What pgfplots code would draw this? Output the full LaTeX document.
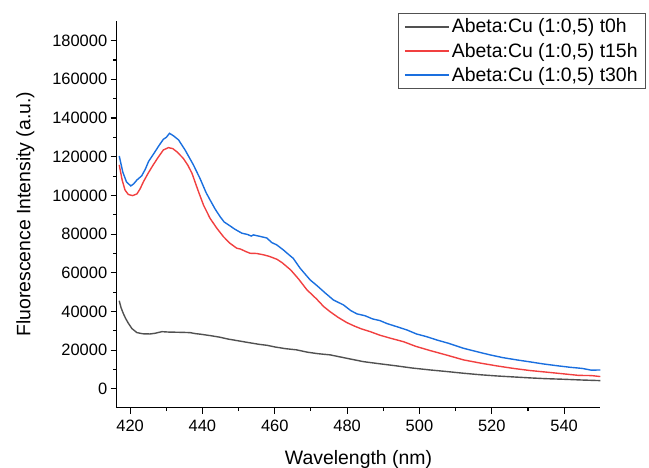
\documentclass[border=0pt]{standalone}
\usepackage{fontspec}
\setmainfont{Liberation Sans}
\usepackage{pgfplots}
\pgfplotsset{compat=1.18}
\definecolor{c1}{HTML}{515151}
\definecolor{c2}{HTML}{F14040}
\definecolor{c3}{HTML}{1A6FDF}
\begin{document}
\begin{tikzpicture}
\begin{axis}[
 scale only axis, width=483.6bp, height=387bp,
 xmin=416.3, xmax=550, ymin=-9700, ymax=190300,
 axis x line*=bottom, axis y line*=left,
 axis line style={line width=1.3bp, -},
 xtick={420,440,...,540}, minor x tick num=1,
 ytick={0,20000,...,180000}, minor y tick num=1,
 tick align=outside,
 major tick length=6bp, minor tick length=3.5bp,
 tick style={line width=1.1bp, black},
 scaled y ticks=false,
 yticklabel style={/pgf/number format/fixed, /pgf/number format/1000 sep={}},
 xticklabel style={yshift=-3bp},
 /pgf/number format/assume math mode=true,
 ticklabel style={font=\fontsize{16.5}{19}\selectfont},
 label style={font=\fontsize{19.5}{23}\selectfont},
 xlabel={Wavelength (nm)}, ylabel={Fluorescence Intensity (a.u.)},
 xlabel shift=11.5bp, ylabel shift=11bp,
 legend style={at={(1,1)}, anchor=north east, xshift=45.7bp, yshift=7.7bp,
   draw=c1, line width=0.8bp, fill=white, font=\fontsize{19.5}{23}\selectfont,
   inner xsep=6bp, inner ysep=3.5bp, row sep=4.5bp},
 legend cell align=left,
 legend image code/.code={\draw[#1] (0bp,0bp) -- (44bp,0bp);},
 legend image post style={line width=1.8bp},
 every axis plot/.append style={line width=1.4bp},
]
\coordinate (SW) at (rel axis cs:0,0);
\coordinate (NE) at (rel axis cs:1,1);
\addplot[color=c1] coordinates {
(417.0,45600)(417.5,42000)(418.1,39100)(418.8,36300)(419.5,34000)(420.5,31200)
(421.9,29100)(423.5,28500)(425.5,28400)(427.0,28800)(428.8,29600)(430.5,29400)
(432.9,29300)(435.0,29200)(436.6,29100)(438.0,28600)(439.4,28300)(442.0,27600)
(444.9,26700)(447.0,25800)(449.5,25000)(452.0,24200)(455.5,23100)(458.0,22500)
(460.0,21700)(463.0,20800)(466.0,20200)(469.0,19000)(472.0,18200)(475.3,17600)
(480.0,15800)(484.5,14100)(489.0,13000)(493.7,11900)(498.0,10800)(503.0,9800)
(507.5,9000)(512.2,8100)(517.0,7300)(521.4,6700)(526.0,6200)(530.6,5700)
(535.0,5300)(539.8,5000)(545.0,4600)(550.0,4300)
};
\addlegendentry{Abeta:Cu (1:0,5) t0h}
\addplot[color=c2] coordinates {
(417.0,115800)(417.8,108000)(418.6,102800)(419.5,100500)(420.7,99900)(421.9,100800)
(422.8,103500)(423.7,107100)(425.0,111500)(426.4,115800)(427.8,119800)(429.2,123500)
(430.6,124700)(431.8,124200)(432.9,122600)(434.7,119200)(436.0,115500)(437.1,111500)
(438.9,102000)(440.3,95000)(442.1,88200)(444.0,83000)(445.8,78700)(447.6,75300)
(449.5,72700)(450.5,72300)(452.0,71000)(453.2,70100)(455.0,70000)(456.9,69300)
(458.5,68500)(460.6,67000)(462.0,65300)(464.4,61500)(466.5,57000)(468.9,51200)
(471.6,46400)(473.5,42600)(475.3,39900)(477.5,37000)(479.9,34300)(482.0,32500)
(484.0,31000)(486.4,29600)(489.0,27800)(492.0,26200)(495.6,24400)(499.0,22000)
(503.0,19800)(507.5,17500)(512.2,15000)(517.0,13300)(521.4,11900)(526.0,10600)
(530.6,9500)(535.0,8700)(539.8,7800)(544.0,7000)(547.5,6900)(550.0,6400)
};
\addlegendentry{Abeta:Cu (1:0,5) t15h}
\addplot[color=c3] coordinates {
(417.0,120400)(418.0,112000)(419.0,107000)(420.2,104900)(421.0,106000)(421.9,108000)
(423.2,110100)(424.2,113500)(425.1,117500)(426.9,122600)(428.0,125800)(429.2,129000)
(430.0,130000)(430.9,132100)(432.0,130800)(433.4,128700)(435.2,123500)(437.5,115800)
(439.4,108500)(441.0,101500)(442.1,97700)(443.5,93000)(444.9,89000)(446.0,86300)
(447.2,84800)(449.0,82500)(450.9,80500)(452.5,79800)(453.5,79000)(454.1,79600)
(456.0,78800)(457.8,78000)(459.2,75600)(460.5,74500)(462.4,71800)(463.5,70000)
(465.1,67500)(467.0,62400)(469.8,56300)(471.6,53500)(474.0,49500)(476.2,46000)
(479.0,43400)(481.0,40500)(482.7,38800)(485.0,37800)(487.0,36200)(489.1,35300)
(491.0,33800)(493.7,32200)(496.5,30500)(499.2,28400)(502.0,27000)(504.8,25300)
(508.0,23600)(512.2,21000)(516.0,19200)(519.5,17600)(523.0,16200)(526.9,15000)
(530.5,14000)(534.3,12900)(538.0,12000)(541.6,11200)(545.0,10600)(547.5,9700)
(550.0,9800)
};
\addlegendentry{Abeta:Cu (1:0,5) t30h}
\end{axis}
\pgfresetboundingbox
\path ([shift={(-116.7bp,-60.3bp)}]SW) rectangle ([shift={(48.7bp,20.7bp)}]NE);
\end{tikzpicture}
\end{document}
